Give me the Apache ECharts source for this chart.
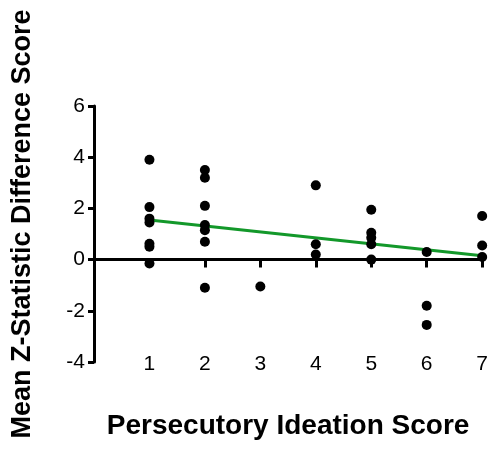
<!DOCTYPE html>
<html>
<head>
<meta charset="utf-8">
<script src="https://cdn.jsdelivr.net/npm/echarts@6/dist/echarts.min.js"></script>
<style>
  html, body { margin: 0; padding: 0; background: #fff; }
  #chart { width: 491px; height: 450px; }
</style>
</head>
<body>
<div id="chart"></div>
<script>
// scores 1..7, each with the points
const scores = [1, 2, 3, 4, 5, 6, 7];
const score1 = [3.9, 2.05, 1.6, 1.45, 0.62, 0.5, -0.15];
const score2 = [3.5, 3.2, 2.1, 1.35, 1.15, 0.7, -1.1];
const score3 = [-1.05];
const score4 = [2.9, 0.6, 0.2];
const score5 = [1.95, 1.05, 0.85, 0.6, 0.0];
const score6 = [0.3, -1.8, -2.55];
const score7 = [1.7, 0.55, 0.1];
const groups = [score1, score2, score3, score4, score5, score6, score7];

// fitted regression line ends
const fitX = [1, 7];
const fitY = [1.55, 0.15];

const yTicks = [-4, -2, 0, 2, 4, 6];

const points = [];
groups.forEach(function (vals, i) {
  vals.forEach(function (v) {
    points.push([scores[i], v]);
  });
});

const font = "'Liberation Sans', Arial, sans-serif";

const chart = echarts.init(document.getElementById("chart"));
chart.setOption({
  animation: false,
  grid: { left: 94, right: 7, top: 106, bottom: 88 },
  xAxis: [
    {
      type: "value",
      min: 0,
      max: 7,
      interval: 1,
      axisLine: { onZero: true, lineStyle: { color: "#000", width: 3 } },
      axisTick: { length: 8, lineStyle: { color: "#000", width: 3 } },
      axisLabel: { show: false },
      splitLine: { show: false }
    },
    {
      type: "value",
      min: 0,
      max: 7,
      interval: 1,
      position: "bottom",
      axisLine: { show: false, onZero: false },
      axisTick: { show: false },
      splitLine: { show: false },
      axisLabel: {
        fontFamily: font,
        fontSize: 21,
        color: "#000",
        verticalAlign: "middle",
        margin: 2,
        formatter: function (v) {
          return scores.indexOf(v) >= 0 ? String(v) : "";
        }
      },
      name: "Persecutory Ideation Score",
      nameLocation: "middle",
      nameGap: 50,
      nameTextStyle: { fontFamily: font, fontSize: 28, fontWeight: "bold", color: "#000" }
    }
  ],
  yAxis: {
    type: "value",
    min: yTicks[0],
    max: yTicks[yTicks.length - 1],
    interval: 2,
    axisLine: { show: true, lineStyle: { color: "#000", width: 3 } },
    axisTick: { show: true, length: 6, lineStyle: { color: "#000", width: 3 } },
    splitLine: { show: false },
    axisLabel: { fontFamily: font, fontSize: 21, color: "#000", margin: 9 },
    name: "Mean Z-Statistic Difference Score",
    nameLocation: "middle",
    nameRotate: 90,
    nameGap: 58,
    nameTextStyle: {
      fontFamily: font,
      fontSize: 27,
      fontWeight: "bold",
      color: "#000",
      padding: [0, 0, 0, 20]
    }
  },
  series: [
    {
      type: "line",
      xAxisIndex: 0,
      data: fitX.map(function (x, i) { return [x, fitY[i]]; }),
      symbol: "none",
      lineStyle: { color: "#13982a", width: 3 },
      z: 3
    },
    {
      type: "scatter",
      xAxisIndex: 0,
      data: points,
      symbolSize: 10,
      itemStyle: { color: "#000", opacity: 1 },
      z: 4
    }
  ]
});
</script>
</body>
</html>
